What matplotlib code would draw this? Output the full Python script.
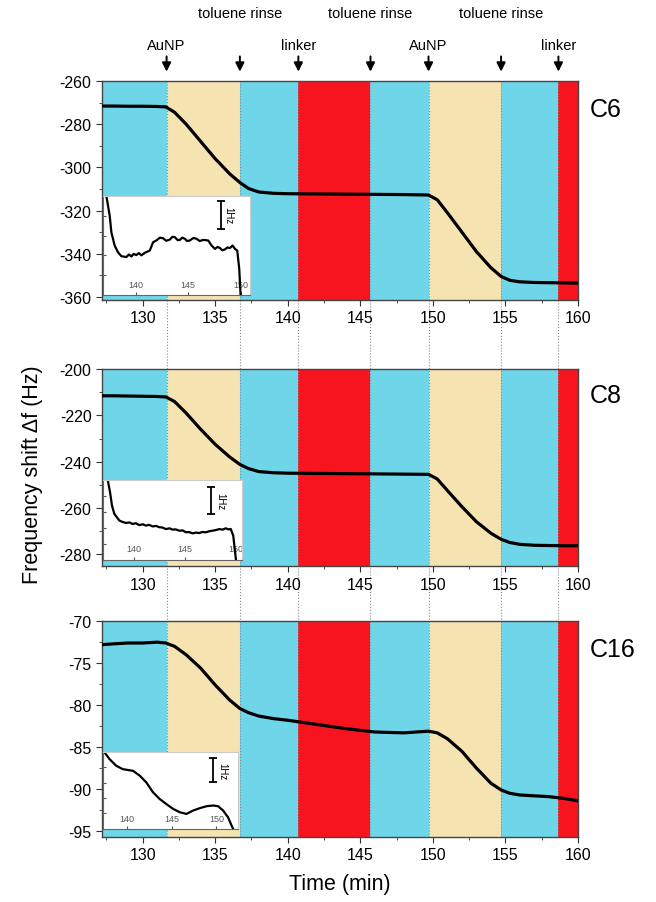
import matplotlib
matplotlib.use("Agg")
import matplotlib.pyplot as plt
import matplotlib.transforms as mtransforms
from matplotlib.lines import Line2D
from matplotlib.ticker import MultipleLocator

plt.rcParams['font.family'] = ['Liberation Sans', 'DejaVu Sans']
plt.rcParams['axes.unicode_minus'] = False

# step boundaries (min) and band colours
edges = [127.2, 131.65, 136.7, 140.73, 145.7, 149.7, 154.7, 158.65, 160.0]
band_kind = ['buffer', 'AuNP', 'buffer', 'linker', 'buffer', 'AuNP', 'buffer', 'linker']
band_color = {'buffer': '#6fd6e9', 'AuNP': '#f5e4b2', 'linker': '#f8141f'}

step_times = [131.65, 136.7, 140.73, 145.7, 149.7, 154.7, 158.65]
step_labels = ['AuNP', 'toluene rinse', 'linker', 'toluene rinse', 'AuNP', 'toluene rinse', 'linker']

# main traces
t_main = [127.2, 128, 129, 130, 131, 131.6, 132.2, 133, 134, 135, 136, 136.7, 137.3, 138,
          139, 140, 142, 144, 146, 148, 149.7, 150.3, 151, 152, 153, 154, 154.7, 155.3,
          156, 157, 158, 159, 160]
c6 = [-271.6, -271.6, -271.7, -271.7, -271.8, -272.0, -274.5, -280, -288, -296, -303, -307,
      -309.8, -311.4, -312.0, -312.2, -312.3, -312.4, -312.5, -312.6, -312.8, -315, -321,
      -330, -339, -346.5, -350.5, -352.3, -353.0, -353.3, -353.4, -353.5, -353.6]
c8 = [-211.5, -211.5, -211.6, -211.7, -211.8, -212.0, -214, -219, -226, -232.5, -238, -241.2,
      -243, -244.3, -244.8, -245.0, -245.1, -245.2, -245.3, -245.4, -245.5, -247.5, -252.5,
      -259.5, -266, -271, -273.6, -275, -275.8, -276.2, -276.3, -276.4, -276.4]
c16 = [-72.8, -72.7, -72.6, -72.6, -72.5, -72.6, -73.0, -74.0, -75.6, -77.6, -79.4, -80.4,
       -80.9, -81.3, -81.6, -81.8, -82.3, -82.8, -83.2, -83.3, -83.1, -83.3, -84.0, -85.5,
       -87.5, -89.3, -90.1, -90.5, -90.7, -90.8, -90.9, -91.1, -91.4]

# zoomed insets (Hz, relative)
t_in6 = [137.20, 137.52, 137.68, 137.99, 138.31, 138.63, 139.11, 139.35, 139.59, 139.8, 140.06,
         140.3, 140.54, 140.86, 141.34, 141.66, 141.97, 142.3, 142.61, 142.9, 143.25, 143.5,
         143.73, 144.0, 144.2, 144.45, 144.68, 144.9, 145.16, 145.5, 145.8, 146.1, 146.43,
         146.91, 147.23, 147.55, 147.8, 148.03, 148.25, 148.5, 148.75, 148.98, 149.24, 149.46,
         149.68, 149.87, 150.0]
f_in6 = [3.54, 2.83, 2.24, 1.77, 1.53, 1.39, 1.36, 1.45, 1.38, 1.47, 1.43, 1.50, 1.42, 1.51,
         1.59, 1.89, 1.95, 2.05, 2.03, 1.94, 1.98, 2.08, 2.07, 1.96, 1.97, 2.05, 2.01, 1.93,
         1.95, 2.04, 2.01, 1.93, 1.97, 1.95, 1.77, 1.65, 1.72, 1.68, 1.60, 1.63, 1.70, 1.68,
         1.77, 1.65, 1.59, 0.94, 0.0]
t_in8 = [137.46, 137.69, 137.88, 138.11, 138.6, 138.9, 139.25, 139.6, 139.9, 140.2, 140.55,
         140.9, 141.2, 141.5, 141.86, 142.2, 142.5, 142.8, 143.16, 143.5, 143.8, 144.1, 144.46,
         144.8, 145.1, 145.4, 145.77, 146.1, 146.4, 146.7, 147.07, 147.4, 147.7, 148.0, 148.37,
         148.7, 149.0, 149.25, 149.5, 149.74, 150.0]
f_in8 = [3.0, 2.53, 2.03, 1.72, 1.47, 1.42, 1.38, 1.40, 1.34, 1.37, 1.30, 1.33, 1.28, 1.31,
         1.25, 1.27, 1.22, 1.21, 1.15, 1.18, 1.13, 1.14, 1.09, 1.10, 1.03, 1.04, 0.99, 1.02,
         1.00, 1.04, 1.03, 1.07, 1.09, 1.11, 1.15, 1.13, 1.18, 1.14, 1.15, 0.9, 0.0]
t_in16 = [137.45, 138.0, 138.76, 139.5, 140.64, 141.39, 142.13, 142.88, 143.63, 144.38,
          145.13, 145.88, 146.63, 147.38, 148.13, 148.88, 149.63, 150.19, 150.75, 151.3,
          151.69, 151.87]
f_in16 = [3.17, 2.9, 2.62, 2.48, 2.41, 2.21, 1.93, 1.52, 1.24, 1.03, 0.83, 0.69, 0.62, 0.76,
          0.86, 0.94, 0.97, 0.94, 0.76, 0.48, 0.14, 0.0]

panels = [
    dict(name='C6', t=t_main, f=c6, ylim=(-361.4, -260), major=20, minor=10,
         pos=[0.1555, 0.6667, 0.7256, 0.2425],
         ins_pos=[0.157, 0.672, 0.224, 0.110], ins_t=t_in6, ins_f=f_in6,
         ins_xlim=(136.88, 150.89), ins_ylim=(0, 3.54), bar=(148.09, 2.36), bar_txt=148.8),
    dict(name='C8', t=t_main, f=c8, ylim=(-285.2, -200), major=20, minor=10,
         pos=[0.1555, 0.372, 0.7256, 0.218],
         ins_pos=[0.157, 0.379, 0.212, 0.0886], ins_t=t_in8, ins_f=f_in8,
         ins_xlim=(137.0, 150.6), ins_ylim=(0, 3.0), bar=(147.56, 1.72), bar_txt=148.5),
    dict(name='C16', t=t_main, f=c16, ylim=(-95.7, -70), major=5, minor=2.5,
         pos=[0.1555, 0.072, 0.7256, 0.239],
         ins_pos=[0.157, 0.081, 0.206, 0.0853], ins_t=t_in16, ins_f=f_in16,
         ins_xlim=(137.27, 152.43), ins_ylim=(0, 3.2), bar=(149.63, 1.93), bar_txt=150.6),
]

fig = plt.figure(figsize=(6.56, 9.03), dpi=100)
axes = []
for p in panels:
    ax = fig.add_axes(p['pos'])
    axes.append(ax)
    for i, kind in enumerate(band_kind):
        ax.axvspan(edges[i], edges[i + 1], color=band_color[kind], lw=0, zorder=0.5)
    for b in step_times:
        ax.axvline(b, color='#8a8a8a', ls=':', lw=0.8, zorder=1)
    ax.plot(p['t'], p['f'], color='black', lw=2.3, zorder=3)
    ax.set_xlim(127.2, 160)
    ax.set_ylim(*p['ylim'])
    ax.xaxis.set_major_locator(MultipleLocator(5))
    ax.xaxis.set_minor_locator(MultipleLocator(2.5))
    ax.yaxis.set_major_locator(MultipleLocator(p['major']))
    ax.yaxis.set_minor_locator(MultipleLocator(p['minor']))
    ax.tick_params(which='both', direction='out', labelsize=11.5, color='#333333')
    ax.tick_params(which='major', length=4)
    ax.tick_params(which='minor', length=2.5)
    for s in ax.spines.values():
        s.set_color('#444444')
        s.set_linewidth(1.0)
    ax.text(1.025, 0.87, p['name'], transform=ax.transAxes, fontsize=18,
            ha='left', va='center')

    ins = fig.add_axes(p['ins_pos'])
    ins.set_zorder(5)
    ins.set_facecolor('white')
    ins.plot(p['ins_t'], p['ins_f'], color='black', lw=1.6)
    ins.set_xlim(*p['ins_xlim'])
    ins.set_ylim(*p['ins_ylim'])
    ins.set_xticks([140, 145, 150])
    ins.set_yticks([p['ins_ylim'][1] * k / 5 for k in range(1, 5)])
    ins.set_yticklabels([])
    ins.tick_params(axis='x', direction='in', pad=-11, labelsize=6.5,
                    labelcolor='#555555', length=2.5, color='#555555')
    ins.tick_params(axis='y', direction='in', length=2.5, color='#555555')
    for side, s in ins.spines.items():
        s.set_color('#666666' if side in ('left', 'bottom') else '#cccccc')
        s.set_linewidth(0.8)
    bx, by = p['bar']
    ins.errorbar([bx], [by + 0.5], yerr=[0.5], color='black', lw=1.3,
                 capsize=3, capthick=1.3, fmt='none')
    ins.text(p['bar_txt'], by + 0.5, '1Hz', rotation=-90, fontsize=7,
             ha='center', va='center')

# dotted guide lines in the gaps between panels
for b in step_times:
    trans = mtransforms.blended_transform_factory(axes[0].transData, fig.transFigure)
    fig.add_artist(Line2D([b, b], [0.072, 0.909], transform=trans, color='#8a8a8a',
                          ls=':', lw=0.8, zorder=-1))

# step arrows and labels above the top panel
top = axes[0]
for b, lab in zip(step_times, step_labels):
    top.annotate('', xy=(b, 1.03), xytext=(b, 1.125),
                 xycoords=('data', 'axes fraction'), textcoords=('data', 'axes fraction'),
                 arrowprops=dict(arrowstyle='-|>', color='black', lw=1.4, mutation_scale=13))
    ylab = 1.31 if lab == 'toluene rinse' else 1.165
    top.text(b, ylab, lab, transform=mtransforms.blended_transform_factory(
        top.transData, top.transAxes), ha='center', va='center', fontsize=10.5)

fig.text(0.05, 0.474, 'Frequency shift \u0394f (Hz)', rotation=90, ha='center',
         va='center', fontsize=15.5)
fig.text(0.518, 0.02, 'Time (min)', ha='center', va='center', fontsize=15.5)

fig.savefig('out.png', dpi=100)
